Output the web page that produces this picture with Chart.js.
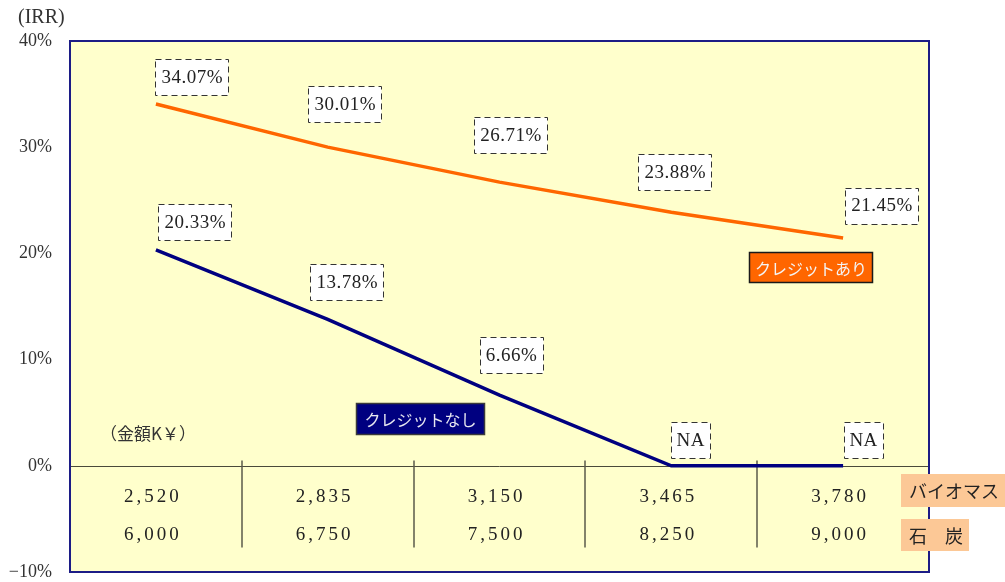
<!DOCTYPE html>
<html>
<head>
<meta charset="utf-8">
<script src="https://cdn.jsdelivr.net/npm/chart.js@4/dist/chart.umd.min.js"></script>
<style>
  html, body { margin: 0; padding: 0; background: #ffffff; }
  canvas { display: block; }
</style>
</head>
<body>
<canvas id="irr" width="1005" height="582"></canvas>
<script>
// Fuel costs (K¥) for each case
const biomassCost = [2520, 2835, 3150, 3465, 3780];
const coalCost = [6000, 6750, 7500, 8250, 9000];

// IRR (%) with and without credits; null = not available (NA)
const irrWithCredit = [34.07, 30.01, 26.71, 23.88, 21.45];
const irrWithoutCredit = [20.33, 13.78, 6.66, null, null];

// Y axis range (%)
const yMin = -10;
const yMax = 40;
const yStep = 10;

const seriesNames = ['クレジットあり', 'クレジットなし'];
const rowNames = ['バイオマス', '石\u3000炭'];
const unitLabel = '（金額K￥）';
const axisTitle = '(IRR)';

// Label box offsets from each point (px): [dx, dy] of box centre
const withOffsets = [[36, -26.5], [17, -43.5], [11, -47], [3.5, -40], [38.5, -32.5]];
const withoutOffsets = [[39, -28], [19, -37], [11.5, -40.5], [19, -26], [20, -26]];

const SERIF = '"Liberation Serif", "DejaVu Serif", serif';
const JP = '"Noto Sans CJK JP", "Noto Sans", sans-serif';
const fmt = n => n.toLocaleString('en-US');
const pct = v => v === null ? 'NA' : v.toFixed(2) + '%';

function dashedLabel(ctx, cx, cy, text) {
  ctx.save();
  ctx.font = '19px ' + SERIF;
  ctx.letterSpacing = '0.5px';
  const w = Math.round(ctx.measureText(text).width) + 11;
  const h = 36;
  const x = Math.round(cx - w / 2) + 0.5, y = Math.round(cy - h / 2) + 0.5;
  ctx.fillStyle = '#ffffff';
  ctx.fillRect(x, y, w, h);
  ctx.setLineDash([6, 4]);
  ctx.strokeStyle = '#333333';
  ctx.lineWidth = 1;
  ctx.strokeRect(x, y, w, h);
  ctx.fillStyle = '#222222';
  ctx.textAlign = 'center';
  ctx.textBaseline = 'middle';
  ctx.fillText(text, cx + 0.5, cy + 1);
  ctx.restore();
}

function filledTag(ctx, x, y, w, h, fill, border, color, text, size, align) {
  ctx.save();
  ctx.fillStyle = fill;
  ctx.fillRect(x, y, w, h);
  if (border) {
    ctx.strokeStyle = border;
    ctx.lineWidth = 1.5;
    ctx.strokeRect(x + 0.5, y + 0.5, w - 1, h - 1);
  }
  ctx.font = size + 'px ' + JP;
  ctx.fillStyle = color;
  ctx.textBaseline = 'middle';
  if (align === 'left') {
    ctx.textAlign = 'left';
    ctx.fillText(text, x + 8, y + h / 2 + 1);
  } else {
    ctx.textAlign = 'center';
    ctx.fillText(text, x + w / 2, y + h / 2 + 1);
  }
  ctx.restore();
}

const chartDecor = {
  id: 'chartDecor',
  beforeDraw(chart) {
    const { ctx, chartArea: a } = chart;
    ctx.save();
    ctx.fillStyle = '#FFFFCC';
    ctx.fillRect(a.left, a.top, a.right - a.left, a.bottom - a.top);
    ctx.restore();
  },
  beforeDatasetsDraw(chart) {
    const { ctx, chartArea: a, scales } = chart;
    const x = scales.x, y = scales.y;
    const zeroY = Math.round(y.getPixelForValue(0)) + 0.5;
    ctx.save();
    // zero line
    ctx.strokeStyle = '#4a4a3a';
    ctx.lineWidth = 1;
    ctx.beginPath();
    ctx.moveTo(a.left, zeroY);
    ctx.lineTo(a.right, zeroY);
    ctx.stroke();
    // cost table separators
    ctx.lineWidth = 1.5;
    ctx.strokeStyle = '#5a5a4a';
    for (let i = 0; i < biomassCost.length - 1; i++) {
      const sx = Math.round((x.getPixelForValue(i) + x.getPixelForValue(i + 1)) / 2);
      ctx.beginPath();
      ctx.moveTo(sx, zeroY - 6);
      ctx.lineTo(sx, zeroY + 81);
      ctx.stroke();
    }
    // cost table values
    ctx.font = '19px ' + SERIF;
    ctx.letterSpacing = '3px';
    ctx.fillStyle = '#222222';
    ctx.textAlign = 'center';
    ctx.textBaseline = 'middle';
    biomassCost.forEach((v, i) => {
      const cx = x.getPixelForValue(i) - 3;
      ctx.fillText(fmt(v), cx, zeroY + 31);
      ctx.fillText(fmt(coalCost[i]), cx, zeroY + 69);
    });
    ctx.restore();

    // unit caption
    ctx.save();
    ctx.font = '17px ' + JP;
    ctx.fillStyle = '#333333';
    ctx.textBaseline = 'middle';
    ctx.textAlign = 'left';
    ctx.fillText(unitLabel, 100, zeroY - 33);
    ctx.restore();
  },
  afterDatasetsDraw(chart) {
    const { ctx, chartArea: a, scales } = chart;
    const x = scales.x, y = scales.y;
    irrWithCredit.forEach((v, i) => {
      const px = x.getPixelForValue(i), py = y.getPixelForValue(v);
      dashedLabel(ctx, px + withOffsets[i][0], py + withOffsets[i][1], pct(v));
    });
    irrWithoutCredit.forEach((v, i) => {
      const px = x.getPixelForValue(i), py = y.getPixelForValue(v === null ? 0 : v);
      dashedLabel(ctx, px + withoutOffsets[i][0], py + withoutOffsets[i][1], pct(v));
    });

    // series tags
    filledTag(ctx, 749, 252, 124, 31, '#FF6600', '#1a1a1a', '#f4f4f4', seriesNames[0], 16);
    filledTag(ctx, 356, 403, 129, 32, '#000080', '#3a3a3a', '#e8e8f0', seriesNames[1], 16);

    // plot frame
    ctx.save();
    ctx.strokeStyle = '#1c1c86';
    ctx.lineWidth = 2;
    ctx.strokeRect(a.left, a.top, a.right - a.left, a.bottom - a.top);
    ctx.restore();

    // row captions
    const zeroY = y.getPixelForValue(0);
    filledTag(ctx, 901, Math.round(zeroY + 8), 106, 33, '#FCC896', null, '#222222', rowNames[0], 18, 'left');
    filledTag(ctx, 901, Math.round(zeroY + 53), 68, 32, '#FCC896', null, '#222222', rowNames[1], 18, 'left');

    // axis title
    ctx.save();
    ctx.font = '20px ' + SERIF;
    ctx.fillStyle = '#333333';
    ctx.textAlign = 'left';
    ctx.textBaseline = 'middle';
    ctx.fillText(axisTitle, 18, 18);
    ctx.restore();
  }
};

new Chart(document.getElementById('irr'), {
  type: 'line',
  data: {
    labels: biomassCost.map(fmt),
    datasets: [
      {
        label: seriesNames[0],
        data: irrWithCredit,
        borderColor: '#FF6600',
        borderWidth: 3.5,
        pointRadius: 0,
        tension: 0,
        fill: false
      },
      {
        label: seriesNames[1],
        data: irrWithoutCredit.map(v => v === null ? 0 : v),
        borderColor: '#000080',
        borderWidth: 3.5,
        pointRadius: 0,
        tension: 0,
        fill: false
      }
    ]
  },
  options: {
    responsive: false,
    animation: false,
    devicePixelRatio: 1,
    layout: { padding: { left: 0, top: 41, right: 76, bottom: 10 } },
    plugins: {
      legend: { display: false },
      tooltip: { enabled: false }
    },
    scales: {
      x: {
        type: 'category',
        display: false,
        offset: true,
        grid: { display: false }
      },
      y: {
        min: yMin,
        max: yMax,
        afterFit(scale) {
          scale.width = 70;
          scale.paddingTop = 0;
          scale.paddingBottom = 0;
        },
        grid: { display: false, drawTicks: false },
        border: { display: false },
        ticks: {
          stepSize: yStep,
          padding: 18,
          color: '#333333',
          font: { family: SERIF, size: 18 },
          callback: v => (v < 0 ? '\u2212' + Math.abs(v) : v) + '%'
        }
      }
    }
  },
  plugins: [chartDecor]
});
</script>
</body>
</html>
